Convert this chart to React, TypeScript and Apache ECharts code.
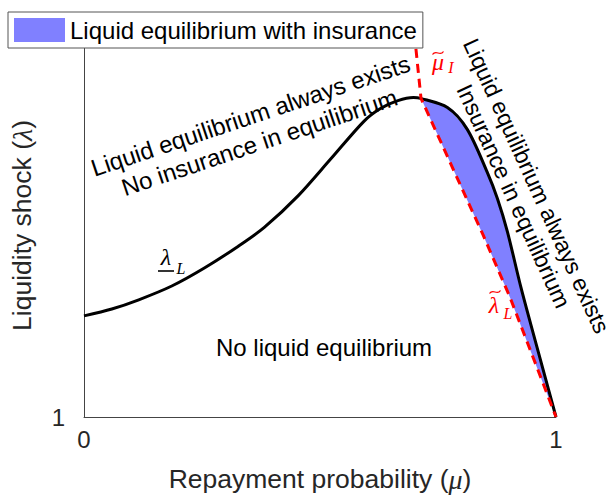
import React, { useEffect, useRef } from "react";
import * as echarts from "echarts";

// lambda_L curve (black)
const muL = [0, 0.059, 0.116, 0.186, 0.255, 0.327, 0.382, 0.454, 0.523, 0.593, 0.629, 0.665, 0.698, 0.713, 0.77, 0.812, 0.854, 0.876, 0.897, 0.926, 0.96, 1];
const lamL = [1.264, 1.282, 1.306, 1.342, 1.389, 1.446, 1.495, 1.578, 1.674, 1.772, 1.806, 1.826, 1.834, 1.832, 1.808, 1.751, 1.64, 1.57, 1.484, 1.337, 1.181, 1];
// mu_I tilde / lambda_L tilde (red dashed)
const muT = [0.7, 0.714, 0.846, 0.903, 1];
const lamT = [2, 1.832, 1.474, 1.311, 1];

const xTicks = [0, 1];
const yTicks = [1];

const legendName = "Liquid equilibrium with insurance";
const SANS = "Liberation Sans, Arial, Helvetica, sans-serif";
const SERIF = "Liberation Serif, DejaVu Serif, serif";

function tilde(cx: number, cy: number, color: string) {
  return {
    type: "bezierCurve",
    shape: { x1: cx - 5.5, y1: cy + 1.5, cpx1: cx - 2, cpy1: cy - 4, cpx2: cx + 2, cpy2: cy + 4, x2: cx + 5.5, y2: cy - 1.5 },
    style: { stroke: color, lineWidth: 1.3, fill: "none" },
  };
}

export default function App() {
  const ref = useRef<HTMLDivElement>(null);
  useEffect(() => {
    if (!ref.current) return;
    const chart = echarts.init(ref.current, null, { renderer: "svg" });
    const lData = muL.map((m, i) => [m, lamL[i]]);
    const tData = muT.map((m, i) => [m, lamT[i]]);
    const peakIdx = muL.findIndex((m) => m >= muT[1] - 0.002);
    const polyPts: number[][] = [];
    for (let i = peakIdx; i < muL.length; i++) polyPts.push([muL[i], lamL[i]]);
    for (let i = muT.length - 1; i >= 1; i--) polyPts.push([muT[i], lamT[i]]);

    const deg = Math.PI / 180;
    chart.setOption({
      animation: false,
      backgroundColor: "#fff",
      grid: { left: 82, right: 58, top: 34, bottom: 78, containLabel: false },
      legend: {
        show: true,
        left: 8,
        top: 12,
        padding: [6, 6, 6, 6],
        itemWidth: 51,
        itemHeight: 24,
        backgroundColor: "#fff",
        borderColor: "#555",
        borderWidth: 1,
        borderRadius: 0,
        data: [{ name: legendName, icon: "rect" }],
        textStyle: { fontFamily: SANS, fontSize: 24, color: "#000" },
        selectedMode: false,
        z: 10,
      },
      xAxis: {
        type: "value",
        min: 0,
        max: 1,
        interval: 1,
        axisLine: { show: true, lineStyle: { color: "#444", width: 1 } },
        axisTick: { show: false },
        splitLine: { show: false },
        axisLabel: {
          margin: 10,
          fontFamily: SANS,
          fontSize: 24,
          color: "#262626",
          formatter: (v: number) => (xTicks.includes(v) ? String(v) : ""),
        },
        name: "{a|Repayment probability (}{b|μ}{a|)}",
        nameLocation: "middle",
        nameGap: 48,
        nameTextStyle: {
          rich: {
            a: { fontFamily: SANS, fontSize: 26.5, color: "#262626" },
            b: { fontFamily: SERIF, fontStyle: "italic", fontSize: 28, color: "#262626" },
          },
        },
      },
      yAxis: {
        type: "value",
        min: 1,
        max: 2,
        interval: 1,
        axisLine: { show: true, lineStyle: { color: "#444", width: 1 } },
        axisTick: { show: false },
        splitLine: { show: false },
        axisLabel: {
          margin: 19,
          fontFamily: SANS,
          fontSize: 24,
          color: "#262626",
          formatter: (v: number) => (yTicks.includes(v) ? String(v) : ""),
        },
        name: "{a|Liquidity shock (}{b|λ}{a|)}",
        nameLocation: "middle",
        nameGap: 48,
        nameTextStyle: {
          rich: {
            a: { fontFamily: SANS, fontSize: 26.5, color: "#262626" },
            b: { fontFamily: SERIF, fontStyle: "italic", fontSize: 28, color: "#262626" },
          },
        },
      },
      series: [
        {
          name: legendName,
          type: "custom",
          coordinateSystem: "cartesian2d",
          data: [[muT[1], lamT[1]]],
          z: 1,
          itemStyle: { color: "#8080ff" },
          renderItem: (_params: any, api: any) => {
            const pts = polyPts.map((p) => api.coord(p));
            return {
              type: "polygon",
              shape: { points: pts, smooth: 0 },
              style: { fill: "#8080ff", stroke: "none" },
            };
          },
        },
        {
          name: "lambdaL",
          type: "line",
          data: lData,
          smooth: 0.3,
          showSymbol: false,
          symbol: "none",
          z: 3,
          lineStyle: { color: "#000", width: 3 },
        },
        {
          name: "tilde",
          type: "line",
          data: tData,
          showSymbol: false,
          symbol: "none",
          z: 4,
          lineStyle: { color: "#ff0000", width: 3, type: [9, 6] },
        },
      ],
      graphic: [
        {
          type: "text",
          x: 255,
          y: 129,
          rotation: 18.5 * deg,
          style: {
            text: "Liquid equilibrium always exists\nNo insurance in equilibrium",
            fontFamily: SANS,
            fontSize: 24,
            lineHeight: 28,
            fill: "#000",
            align: "center",
            verticalAlign: "middle",
          },
        },
        {
          type: "text",
          x: 525,
          y: 191,
          rotation: -65.5 * deg,
          style: {
            text: "Liquid equilibrium always exists\nInsurance in equilibrium",
            fontFamily: SANS,
            fontSize: 23,
            lineHeight: 25,
            fill: "#000",
            align: "center",
            verticalAlign: "middle",
          },
        },
        {
          type: "text",
          x: 324,
          y: 347,
          style: {
            text: "No liquid equilibrium",
            fontFamily: SANS,
            fontSize: 24,
            fill: "#000",
            align: "center",
            verticalAlign: "middle",
          },
        },
        // lambda_L (underlined)
        { type: "text", x: 166, y: 257, style: { text: "λ", fontFamily: SERIF, fontStyle: "italic", fontSize: 24, fill: "#000", align: "center", verticalAlign: "middle" } },
        { type: "line", shape: { x1: 158, y1: 271, x2: 174, y2: 271 }, style: { stroke: "#000", lineWidth: 1.6 } },
        { type: "text", x: 181, y: 268, style: { text: "L", fontFamily: SERIF, fontStyle: "italic", fontSize: 16, fill: "#000", align: "center", verticalAlign: "middle" } },
        // mu_I tilde
        { type: "text", x: 438, y: 62, style: { text: "μ", fontFamily: SERIF, fontStyle: "italic", fontSize: 24, fill: "#ff0000", align: "center", verticalAlign: "middle" } },
        tilde(438, 53, "#ff0000"),
        { type: "text", x: 451, y: 67, style: { text: "I", fontFamily: SERIF, fontStyle: "italic", fontSize: 16, fill: "#ff0000", align: "center", verticalAlign: "middle" } },
        // lambda_L tilde
        { type: "text", x: 494, y: 305, style: { text: "λ", fontFamily: SERIF, fontStyle: "italic", fontSize: 24, fill: "#ff0000", align: "center", verticalAlign: "middle" } },
        tilde(495, 292, "#ff0000"),
        { type: "text", x: 508, y: 313, style: { text: "L", fontFamily: SERIF, fontStyle: "italic", fontSize: 16, fill: "#ff0000", align: "center", verticalAlign: "middle" } },
      ],
    });
    return () => chart.dispose();
  }, []);
  return <div ref={ref} style={{ width: 614, height: 498, position: "absolute", left: 0, top: 0 }} />;
}
